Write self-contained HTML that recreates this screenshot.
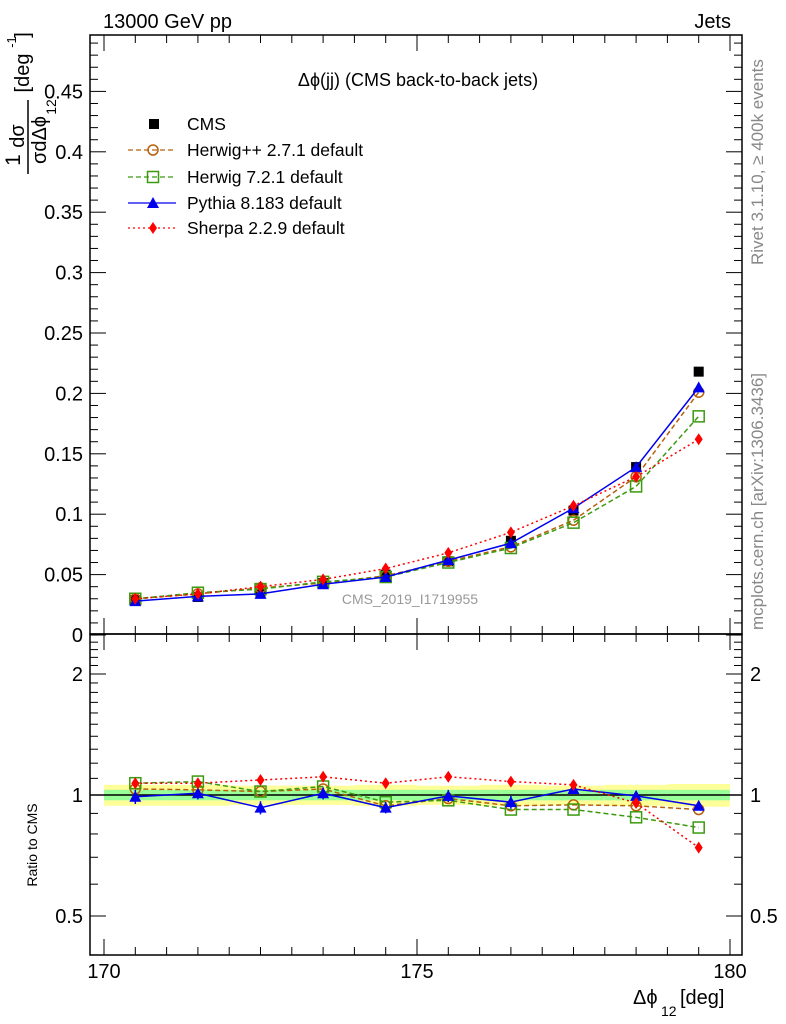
<!DOCTYPE html>
<html><head><meta charset="utf-8"><style>
body{margin:0;background:#fff}
svg{display:block;font-family:"Liberation Sans",sans-serif}
</style></head><body>
<svg id="c" width="786" height="1024" viewBox="0 0 786 1024">
<g id="bands"></g>
<g id="axes"></g>
<g id="series"></g>
<text x="103" y="28" font-size="20">13000 GeV pp</text>
<text x="731" y="28" font-size="20" text-anchor="end">Jets</text>
<text x="418" y="86" font-size="18" text-anchor="middle">Δϕ(jj) (CMS back-to-back jets)</text>
<text x="410" y="604" font-size="14" fill="#999" text-anchor="middle">CMS_2019_I1719955</text>
<text transform="translate(763,265) rotate(-90)" font-size="17" fill="#888">Rivet 3.1.10, ≥ 400k events</text>
<text transform="translate(763,630) rotate(-90)" font-size="17" fill="#888">mcplots.cern.ch [arXiv:1306.3436]</text>
<g>
<text transform="translate(20,160) rotate(-90)" font-size="21" text-anchor="middle">1</text>
<text transform="translate(24,136) rotate(-90)" font-size="20" text-anchor="middle">dσ</text>
<line x1="28" y1="100" x2="28" y2="174" stroke="#000" stroke-width="1.5"/>
<text transform="translate(46,140) rotate(-90)" font-size="20" text-anchor="middle">σdΔϕ</text>
<text transform="translate(56,107) rotate(-90)" font-size="14" text-anchor="middle">12</text>
<text transform="translate(29,73) rotate(-90)" font-size="20" text-anchor="middle">[deg</text>
<text transform="translate(16,42) rotate(-90)" font-size="13" text-anchor="middle">-1</text>
<text transform="translate(29,35) rotate(-90)" font-size="20" text-anchor="middle">]</text>
</g>
<text transform="translate(37,845) rotate(-90)" font-size="14" text-anchor="middle">Ratio to CMS</text>
<g><text x="633" y="1004" font-size="20">Δϕ</text><text x="661" y="1016" font-size="14">12</text><text x="680" y="1004" font-size="20">[deg]</text></g>
<g id="legend"></g>
</svg>
<script>
const xCenters=[170.5,171.5,172.5,173.5,174.5,175.5,176.5,177.5,178.5,179.5];
const cms=[0.029,0.0315,0.035,0.043,0.050,0.061,0.078,0.103,0.139,0.218];
const herwigpp=[0.030,0.034,0.039,0.043,0.049,0.061,0.073,0.095,0.131,0.201];
const herwig7=[0.030,0.035,0.038,0.044,0.048,0.060,0.072,0.093,0.123,0.181];
const pythia=[0.028,0.032,0.034,0.042,0.048,0.062,0.076,0.105,0.139,0.205];
const sherpa=[0.030,0.034,0.040,0.046,0.055,0.068,0.085,0.107,0.131,0.162];
const rHerwigpp=[1.035,1.03,1.02,1.035,0.94,0.98,0.94,0.945,0.94,0.92];
const rHerwig7=[1.07,1.08,1.02,1.05,0.96,0.97,0.92,0.92,0.88,0.83];
const rPythia=[0.99,1.01,0.93,1.01,0.93,0.995,0.96,1.035,0.995,0.94];
const rSherpa=[1.07,1.07,1.09,1.11,1.07,1.11,1.08,1.06,0.955,0.74];
const pythiaErr=[0.04,0.035,0.035,0.035,0.03,0.035,0.035,0.02,0.025,0.02];
const bandInner=[0.03,0.03,0.03,0.03,0.03,0.03,0.03,0.03,0.03,0.03];
const bandOuter=[0.06,0.06,0.055,0.055,0.06,0.055,0.06,0.055,0.06,0.065];
const mainTicks=[0,0.05,0.1,0.15,0.2,0.25,0.3,0.35,0.4,0.45];
const mainTickLabels=["0","0.05","0.1","0.15","0.2","0.25","0.3","0.35","0.4","0.45"];
const ratioTicks=[0.5,1,2];
const ratioTickLabels=["0.5","1","2"];
const xTicks=[170,175,180];

const L=90,R=742,T=35,M=634,B=955;
const X=v=>104+(v-170)*62.6;
const Y=v=>635-v*1208;
const RY=v=>795-Math.log2(v)*121;
const NS="http://www.w3.org/2000/svg";
function mk(p,tag,a){const e=document.createElementNS(NS,tag);for(const k in a)e.setAttribute(k,a[k]);p.appendChild(e);return e;}
const ax=document.getElementById('axes'),se=document.getElementById('series'),bd=document.getElementById('bands'),lg=document.getElementById('legend');

xCenters.forEach((c,i)=>{
 const o=mk(bd,'rect',{x:X(c-0.5),y:RY(1+bandOuter[i]),width:62.6,height:RY(1-bandOuter[i])-RY(1+bandOuter[i]),fill:'#ffff99'});
 
 
 const n=mk(bd,'rect',{x:X(c-0.5),y:RY(1+bandInner[i]),width:62.6,height:RY(1-bandInner[i])-RY(1+bandInner[i]),fill:'#99ff99'});
 
 
});
mk(ax,'line',{x1:L,y1:RY(1),x2:R,y2:RY(1),stroke:'#000','stroke-width':1.5});

mk(ax,'rect',{x:L,y:T,width:R-L,height:M-T,fill:'none',stroke:'#000','stroke-width':1.5});
mk(ax,'rect',{x:L,y:M,width:R-L,height:B-M,fill:'none',stroke:'#000','stroke-width':1.5});
for(let v=0;v<=0.495;v+=0.01){const y=Y(v);if(y<T)break;const maj=Math.abs(v*20-Math.round(v*20))<1e-6;const l=maj?16:8;
 mk(ax,'line',{x1:L,y1:y,x2:L+l,y2:y,stroke:'#000'});mk(ax,'line',{x1:R,y1:y,x2:R-l,y2:y,stroke:'#000'});}
mainTicks.forEach((v,i)=>{const t=mk(ax,'text',{x:83,y:Y(v)+7,'font-size':20,'text-anchor':'end'});t.textContent=mainTickLabels[i];
 
 });
[0.4,0.5,0.6,0.7,0.8,0.9,1,1.1,1.2,1.3,1.4,1.5,1.6,1.7,1.8,1.9,2,2.1,2.2,2.3,2.4,2.5].forEach(v=>{const y=RY(v);if(y<M||y>B)return;const maj=ratioTicks.includes(v);const l=maj?16:8;
 mk(ax,'line',{x1:L,y1:y,x2:L+l,y2:y,stroke:'#000'});mk(ax,'line',{x1:R,y1:y,x2:R-l,y2:y,stroke:'#000'});});
ratioTicks.forEach((v,i)=>{const t=mk(ax,'text',{x:83,y:RY(v)+7,'font-size':20,'text-anchor':'end'});t.textContent=ratioTickLabels[i];
 
 
 const t2=mk(ax,'text',{x:750,y:RY(v)+7,'font-size':20});t2.textContent=ratioTickLabels[i];
 
 });
for(let v=170;v<=180.01;v+=0.5){const x=X(v);const maj=Math.abs(v-Math.round(v/5)*5)<1e-6;const l=maj?16:8;
 [[T,1],[M,-1],[M,1],[B,-1]].forEach(([y,d])=>mk(ax,'line',{x1:x,y1:y,x2:x,y2:y+d*l,stroke:'#000'}));}
xTicks.forEach(v=>{const t=mk(ax,'text',{x:X(v),y:978,'font-size':20,'text-anchor':'middle'});t.textContent=v;
 
 });

function marker(g,type,x,y,col){
 if(type==='sq')mk(g,'rect',{x:x-5,y:y-5,width:10,height:10,fill:'#000'});
 else if(type==='circ')mk(g,'circle',{cx:x,cy:y,r:5,fill:'none',stroke:col,'stroke-width':1.5});
 else if(type==='osq')mk(g,'rect',{x:x-5.5,y:y-5.5,width:11,height:11,fill:'none',stroke:col,'stroke-width':1.5});
 else if(type==='tri')mk(g,'polygon',{points:`${x},${y-6} ${x-6},${y+5} ${x+6},${y+5}`,fill:col});
 else if(type==='dia')mk(g,'polygon',{points:`${x},${y-6} ${x-4},${y} ${x},${y+6} ${x+4},${y}`,fill:col});
}
const specs=[
 {name:'herwigpp',d:herwigpp,r:rHerwigpp,col:'#b8600b',dash:'5,3',m:'circ',lab:'Herwig++ 2.7.1 default'},
 {name:'herwig7',d:herwig7,r:rHerwig7,col:'#3b9a0e',dash:'5,3',m:'osq',lab:'Herwig 7.2.1 default'},
 {name:'pythia',d:pythia,r:rPythia,col:'#0000ee',dash:'',m:'tri',lab:'Pythia 8.183 default'},
 {name:'sherpa',d:sherpa,r:rSherpa,col:'#ff0000',dash:'2,3',m:'dia',lab:'Sherpa 2.2.9 default'}];
specs.forEach(s=>{
 const g=mk(se,'g',{});
 
 
 mk(g,'polyline',{points:xCenters.map((c,i)=>X(c)+','+Y(s.d[i])).join(' '),fill:'none',stroke:s.col,'stroke-width':1.5,'stroke-dasharray':s.dash});
 xCenters.forEach((c,i)=>marker(g,s.m,X(c),Y(s.d[i]),s.col));
 const gr=mk(se,'g',{});
 
 
 mk(gr,'polyline',{points:xCenters.map((c,i)=>X(c)+','+RY(s.r[i])).join(' '),fill:'none',stroke:s.col,'stroke-width':1.5,'stroke-dasharray':s.dash});
 if(s.name==='pythia')xCenters.forEach((c,i)=>{mk(gr,'line',{x1:X(c),y1:RY(s.r[i]+pythiaErr[i]),x2:X(c),y2:RY(s.r[i]-pythiaErr[i]),stroke:s.col,'stroke-width':1.5});});
 xCenters.forEach((c,i)=>marker(gr,s.m,X(c),RY(s.r[i]),s.col));
});
const gc=mk(se,'g',{});


xCenters.forEach((c,i)=>marker(gc,'sq',X(c),Y(cms[i]),'#000'));
se.insertBefore(gc,se.firstChild);

const ly=[124,150,177,203,228];
marker(lg,'sq',154,ly[0],'#000');
let t=mk(lg,'text',{x:187,y:ly[0]+6,'font-size':17.5});t.textContent='CMS';
specs.forEach((s,i)=>{const y=ly[i+1];
 mk(lg,'line',{x1:128,y1:y,x2:176,y2:y,stroke:s.col,'stroke-width':1.2,'stroke-dasharray':s.dash});
 marker(lg,s.m,153,y,s.col);
 const tt=mk(lg,'text',{x:187,y:y+6,'font-size':17.5});tt.textContent=s.lab;
 
 });
</script>
</body></html>
